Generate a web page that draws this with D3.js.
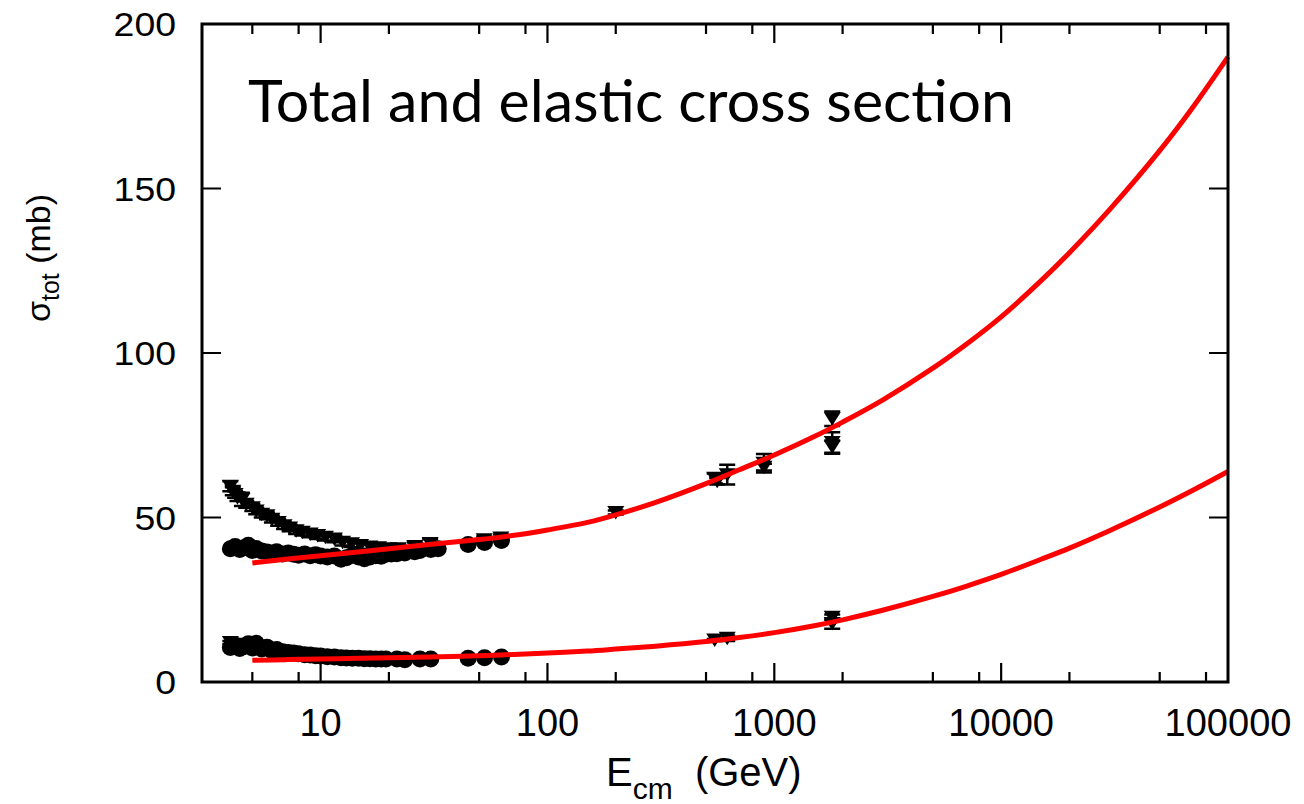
<!DOCTYPE html>
<html>
<head>
<meta charset="utf-8">
<script src="https://cdn.jsdelivr.net/npm/d3@7"></script>
<style>
  body { margin: 0; background: #fff; }
  svg { display: block; }
</style>
</head>
<body>
<svg id="chart" width="1304" height="804"></svg>
<script>
// ---- data ----
// pp total cross section (circles): [E_cm GeV, sigma mb]
const totalPP = [
  [4.0, 40.5], [4.2, 41.2], [4.4, 40.3], [4.6, 40.8], [4.8, 41.6], [5.0, 40.0], [5.2, 40.6],
  [5.5, 39.8], [5.8, 39.5], [6.1, 39.2], [6.4, 39.6], [6.8, 38.9], [7.2, 39.2], [7.6, 38.8],
  [8.0, 38.5], [8.5, 38.9], [9.0, 38.4], [9.5, 38.7], [10.0, 38.3], [10.7, 38.0], [11.5, 38.3],
  [12.3, 37.3], [13.0, 37.8], [13.8, 38.5], [14.7, 38.0], [15.6, 37.5], [16.5, 38.0], [17.5, 38.4],
  [18.5, 38.2], [19.4, 38.8], [20.5, 38.9], [21.7, 39.0], [23.5, 39.2], [26.0, 39.6], [27.4, 40.0],
  [30.6, 40.3], [33.0, 40.5], [44.7, 41.8], [52.8, 42.4], [62.7, 43.0]
];
// pbar-p total cross section (down triangles): [E, sigma, error]
const totalPPbar = [
  [4.0, 59.5, 1.5], [4.1, 58.0, 1.2], [4.2, 57.0, 1.0], [4.3, 56.0, 1.0], [4.5, 55.5, 2.0],
  [4.7, 54.0, 1.0], [5.0, 53.0, 1.0], [5.2, 52.0, 1.0], [5.5, 51.0, 1.0], [5.8, 50.5, 1.0],
  [6.1, 49.5, 1.0], [6.5, 48.5, 1.0], [6.9, 47.5, 1.0], [7.3, 46.8, 1.0], [7.8, 46.0, 1.0],
  [8.3, 45.5, 1.0], [9.0, 45.0, 1.0], [9.7, 44.5, 1.0], [10.5, 44.0, 1.0], [11.5, 43.5, 1.0],
  [12.5, 42.5, 1.0], [13.7, 42.0, 1.0], [15.0, 41.5, 1.0], [16.5, 41.0, 1.0], [18.0, 40.8, 1.0],
  [20.0, 40.5, 1.0], [22.0, 40.5, 1.0], [26.0, 41.2, 1.2], [30.4, 42.1, 1.3], [52.6, 43.2, 1.0],
  [62.3, 43.8, 1.0], [200, 51.5, 0.6], [546, 61.9, 1.5], [560, 61.0, 1.0], [620, 63.0, 3.0],
  [900, 65.3, 1.0], [900, 66.5, 2.8], [1800, 80.0, 2.2], [1800, 72.8, 3.1], [1800, 71.4, 2.0]
];
// pp elastic (circles)
const elasticPP = [
  [4.0, 10.5], [4.2, 11.2], [4.4, 10.2], [4.6, 10.8], [4.8, 11.6], [5.0, 10.3], [5.2, 11.8],
  [5.5, 10.0], [5.8, 10.6], [6.1, 9.5], [6.4, 9.9], [6.8, 9.2], [7.2, 9.0], [7.6, 8.8],
  [8.0, 8.6], [8.5, 8.3], [9.0, 8.2], [9.5, 8.0], [10.0, 7.9], [10.7, 7.7], [11.5, 7.6],
  [12.3, 7.4], [13.0, 7.3], [13.8, 7.2], [14.7, 7.2], [15.6, 7.1], [16.5, 7.1], [17.5, 7.0],
  [18.5, 7.0], [19.4, 7.0], [21.7, 7.0], [23.5, 6.8], [27.4, 7.0], [30.6, 7.0],
  [44.7, 7.2], [52.8, 7.4], [62.7, 7.6]
];
// pbar-p elastic (down triangles): [E, sigma, error]
const elasticPPbar = [
  [4.0, 12.0, 0.5], [4.3, 11.5, 0.5], [4.7, 11.0, 0.5], [5.2, 10.5, 0.5], [5.8, 10.0, 0.5],
  [6.5, 9.5, 0.5], [7.3, 9.0, 0.5], [8.2, 8.5, 0.5], [9.5, 8.2, 0.5], [11.0, 7.9, 0.5],
  [546, 12.8, 0.3], [620, 13.3, 0.8], [1800, 19.7, 0.85], [1800, 17.8, 1.6]
];
// fitted curves (red)
const fitE = [5, 7, 10, 15, 20, 30, 50, 70, 100, 150, 200, 300, 500, 700, 1000, 1500, 2000,
  3000, 5000, 7000, 10000, 15000, 20000, 30000, 50000, 70000, 100000];
const fitTotal = [36.2, 37.3, 38.4, 39.6, 40.5, 41.8, 43.3, 44.5, 46.2, 48.5, 50.8, 54.6, 60.3,
  64.5, 69.0, 74.6, 79.0, 85.7, 95.4, 102.6, 111.0, 122.0, 130.5, 143.5, 161.5, 174.7, 190.0];
const fitElastic = [6.6, 6.8, 7.0, 7.2, 7.35, 7.6, 8.0, 8.35, 8.8, 9.4, 10.0, 10.9, 12.3, 13.5,
  15.0, 17.1, 18.9, 21.8, 26.0, 29.1, 32.7, 37.3, 40.7, 46.0, 53.2, 58.3, 64.0];

const xTicks = [10, 100, 1000, 10000, 100000];
const yTicks = [0, 50, 100, 150, 200];

// ---- layout ----
const margin = {top: 24, right: 76, bottom: 122, left: 202};
const width = 1304, height = 804;

const svg = d3.select("#chart");

const x = d3.scaleLog([3, 100000], [margin.left, width - margin.right]);
const y = d3.scaleLinear([0, 200], [height - margin.bottom, margin.top]);

const minorTicks = [];
[1, 10, 100, 1000, 10000].forEach(d => [2, 5, 8].forEach(m => {
  const v = d * m;
  if (v > 3 && v < 100000) minorTicks.push(v);
}));

// ---- data points ----
const pts = svg.append("g");
const tri = "M-8.5,-6.5L8.5,-6.5L0,7Z";

function errBars(data) {
  const g = pts.append("g").attr("stroke", "black").attr("stroke-width", 2.5).attr("fill", "none");
  g.selectAll("path")
    .data(data)
    .join("path")
      .attr("d", d => {
        const cx = x(d[0]), y1 = y(d[1] - d[2]), y2 = y(d[1] + d[2]);
        return `M${cx},${y1}V${y2}M${cx - 8},${y1}H${cx + 8}M${cx - 8},${y2}H${cx + 8}`;
      });
}

function circles(data) {
  pts.append("g")
    .selectAll("circle")
    .data(data)
    .join("circle")
      .attr("cx", d => x(d[0]))
      .attr("cy", d => y(d[1]))
      .attr("r", 8.5)
      .attr("fill", "black");
}

function triangles(data) {
  errBars(data);
  pts.append("g")
    .selectAll("path")
    .data(data)
    .join("path")
      .attr("transform", d => `translate(${x(d[0])},${y(d[1])})`)
      .attr("d", tri)
      .attr("fill", "black");
}

triangles(totalPPbar);
circles(totalPP);
triangles(elasticPPbar);
circles(elasticPP);

// ---- fit curves ----
const line = d3.line()
  .x(d => x(d[0]))
  .y(d => y(d[1]))
  .curve(d3.curveCatmullRom.alpha(0.5));

[fitTotal, fitElastic].forEach(vals => {
  svg.append("path")
    .datum(fitE.map((e, i) => [e, vals[i]]))
    .attr("fill", "none")
    .attr("stroke", "#ff0000")
    .attr("stroke-width", 5)
    .attr("d", line);
});

// ---- axes / frame ----
const frame = svg.append("g").attr("stroke", "black");
const x0 = margin.left, x1 = width - margin.right, y0 = height - margin.bottom, y1 = margin.top;

frame.append("g").attr("stroke-width", 2.2)
  .selectAll("path")
  .data(xTicks.slice(0, -1))
  .join("path")
    .attr("d", d => `M${x(d)},${y0}v-19M${x(d)},${y1}v19`);
frame.append("g").attr("stroke-width", 2.2)
  .selectAll("path")
  .data(minorTicks)
  .join("path")
    .attr("d", d => `M${x(d)},${y0}v-10M${x(d)},${y1}v10`);
frame.append("g").attr("stroke-width", 2.2)
  .selectAll("path")
  .data(yTicks.slice(1, -1))
  .join("path")
    .attr("d", d => `M${x0},${y(d)}h19M${x1},${y(d)}h-19`);

frame.append("rect")
  .attr("x", x0).attr("y", y1)
  .attr("width", x1 - x0).attr("height", y0 - y1)
  .attr("fill", "none")
  .attr("stroke-width", 3);

// tick labels
svg.append("g")
  .attr("font-family", "'Liberation Sans', Arial, sans-serif")
  .attr("font-size", 34)
  .attr("text-anchor", "end")
  .selectAll("text")
  .data(yTicks)
  .join("text")
    .attr("transform", d => `translate(176,${y(d) + 12}) scale(1.1,1)`)
    .text(d => d);

svg.append("g")
  .attr("font-family", "'Liberation Sans Narrow', 'Liberation Sans', Arial, sans-serif")
  .attr("font-size", 38)
  .attr("text-anchor", "middle")
  .selectAll("text")
  .data(xTicks)
  .join("text")
    .attr("x", d => x(d))
    .attr("y", 736)
    .text(d => d);

// axis titles
const xl = svg.append("text")
  .attr("font-family", "'Liberation Sans Narrow', 'Liberation Sans', Arial, sans-serif")
  .attr("font-size", 40)
  .attr("x", 606)
  .attr("y", 786);
xl.append("tspan").text("E");
xl.append("tspan").attr("font-size", 30).attr("dy", 13).text("cm");
xl.append("tspan").attr("dy", -13).text("\u00a0 (GeV)");

const yl = svg.append("text")
  .attr("font-family", "'Liberation Sans', Arial, sans-serif")
  .attr("font-size", 34)
  .attr("text-anchor", "middle")
  .attr("transform", "translate(50,258) rotate(-90)");
yl.append("tspan").text("\u03c3");
yl.append("tspan").attr("font-size", 25).attr("dy", 9).text("tot");
yl.append("tspan").attr("dy", -9).text(" (mb)");

// title inside plot
svg.append("text")
  .attr("font-family", "Lato, 'Open Sans', sans-serif")
  .attr("font-size", 58)
  .attr("x", 248)
  .attr("y", 122)
  .attr("textLength", 766)
  .attr("lengthAdjust", "spacingAndGlyphs")
  .text("Total and elastic cross section");
</script>
</body>
</html>
